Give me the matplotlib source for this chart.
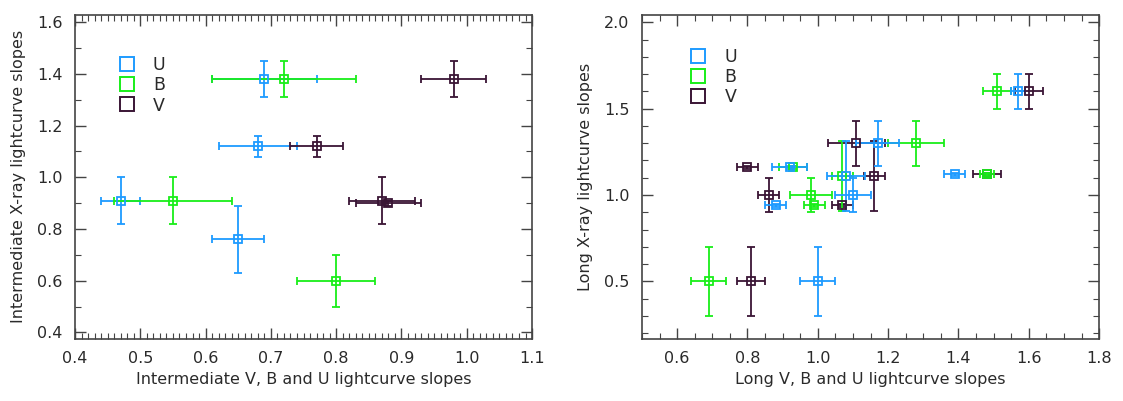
import matplotlib
matplotlib.use("Agg")
import matplotlib.pyplot as plt
from matplotlib.lines import Line2D
from matplotlib.ticker import MultipleLocator, FormatStrFormatter

# colours per band
band_colors = {"U": "#1e9bff", "B": "#19ee19", "V": "#3a1535"}
bands = ["U", "B", "V"]

# intermediate slopes (left panel): x, y, x error, y error
inter_U_x = [0.69, 0.68, 0.47, 0.65]
inter_U_y = [1.38, 1.12, 0.91, 0.76]
inter_U_xerr = [0.08, 0.06, 0.03, 0.04]
inter_U_yerr = [0.07, 0.04, 0.09, 0.13]

inter_B_x = [0.72, 0.55, 0.80]
inter_B_y = [1.38, 0.91, 0.60]
inter_B_xerr = [0.11, 0.09, 0.06]
inter_B_yerr = [0.07, 0.09, 0.10]

inter_V_x = [0.98, 0.77, 0.87, 0.88]
inter_V_y = [1.38, 1.12, 0.91, 0.90]
inter_V_xerr = [0.05, 0.04, 0.05, 0.05]
inter_V_yerr = [0.07, 0.04, 0.09, 0.01]

# long slopes (right panel)
long_U_x = [1.57, 1.39, 1.17, 1.08, 1.10, 0.88, 0.92, 1.00]
long_U_y = [1.60, 1.12, 1.30, 1.11, 1.00, 0.94, 1.16, 0.50]
long_U_xerr = [0.02, 0.03, 0.06, 0.055, 0.05, 0.03, 0.05, 0.05]
long_U_yerr = [0.10, 0.01, 0.13, 0.20, 0.10, 0.01, 0.01, 0.20]

long_B_x = [1.51, 1.48, 1.28, 1.07, 0.98, 0.99, 0.93, 0.69]
long_B_y = [1.60, 1.12, 1.30, 1.11, 1.00, 0.94, 1.16, 0.50]
long_B_xerr = [0.04, 0.02, 0.08, 0.03, 0.06, 0.03, 0.04, 0.05]
long_B_yerr = [0.10, 0.01, 0.13, 0.20, 0.10, 0.01, 0.01, 0.20]

long_V_x = [1.60, 1.48, 1.11, 1.16, 0.86, 1.07, 0.80, 0.81]
long_V_y = [1.60, 1.12, 1.30, 1.11, 1.00, 0.94, 1.16, 0.50]
long_V_xerr = [0.04, 0.04, 0.08, 0.03, 0.03, 0.03, 0.03, 0.04]
long_V_yerr = [0.10, 0.01, 0.13, 0.20, 0.10, 0.01, 0.01, 0.20]

inter_data = {
    "U": (inter_U_x, inter_U_y, inter_U_xerr, inter_U_yerr),
    "B": (inter_B_x, inter_B_y, inter_B_xerr, inter_B_yerr),
    "V": (inter_V_x, inter_V_y, inter_V_xerr, inter_V_yerr),
}
long_data = {
    "U": (long_U_x, long_U_y, long_U_xerr, long_U_yerr),
    "B": (long_B_x, long_B_y, long_B_xerr, long_B_yerr),
    "V": (long_V_x, long_V_y, long_V_xerr, long_V_yerr),
}

plt.rcParams['font.family'] = ['DejaVu Sans']
plt.rcParams['font.size'] = 11.5
text_color = '#2a2a2a'
axis_color = '#444444'


def draw_panel(ax, data, legend_anchor, order):
    for band in order:
        x, y, xerr, yerr = data[band]
        ax.errorbar(x, y, xerr=xerr, yerr=yerr, fmt='s', color=band_colors[band],
                    mfc='none', mec=band_colors[band], ms=6, mew=1.3,
                    elinewidth=1.3, capsize=3, capthick=1.3)

    # legend: hollow squares only
    handles = [Line2D([], [], marker='s', ls='none', mfc='none', ms=9.5, mew=1.4,
                      mec=band_colors[b], color=band_colors[b]) for b in bands]
    leg = ax.legend(handles, bands, loc='upper left', bbox_to_anchor=legend_anchor,
                    frameon=False, handletextpad=1.0, labelspacing=0.12,
                    handlelength=1.0, fontsize=12.5)
    for t in leg.get_texts():
        t.set_color(text_color)

    ax.tick_params(which='both', direction='in', top=True, right=True,
                   colors=axis_color, labelcolor=text_color)
    ax.tick_params(which='major', length=8, width=1, pad=9)
    ax.tick_params(which='minor', length=4, width=0.8)
    for s in ax.spines.values():
        s.set_color(axis_color)
        s.set_linewidth(1.2)


fig = plt.figure(figsize=(11.23, 4.01), dpi=100)
ax1 = fig.add_axes([0.0668, 0.155, 0.407, 0.808])
ax2 = fig.add_axes([0.5717, 0.155, 0.407, 0.808])

draw_panel(ax1, inter_data, (0.06, 0.92), ["U", "B", "V"])
ax1.set_xlim(0.4, 1.1)
ax1.set_ylim(0.375, 1.628)
ax1.xaxis.set_major_locator(MultipleLocator(0.1))
ax1.xaxis.set_minor_locator(MultipleLocator(0.01))
ax1.yaxis.set_major_locator(MultipleLocator(0.2))
ax1.yaxis.set_minor_locator(MultipleLocator(0.1))
ax1.xaxis.set_major_formatter(FormatStrFormatter('%.1f'))
ax1.yaxis.set_major_formatter(FormatStrFormatter('%.1f'))
ax1.set_xlabel('Intermediate V, B and U lightcurve slopes', color=text_color, labelpad=4)
ax1.set_ylabel('Intermediate X-ray lightcurve slopes', color=text_color, labelpad=8)

draw_panel(ax2, long_data, (0.07, 0.945), ["V", "B", "U"])
ax2.set_xlim(0.5, 1.8)
ax2.set_ylim(0.167, 2.043)
ax2.xaxis.set_major_locator(MultipleLocator(0.2))
ax2.xaxis.set_minor_locator(MultipleLocator(0.05))
ax2.yaxis.set_major_locator(MultipleLocator(0.5))
ax2.yaxis.set_minor_locator(MultipleLocator(0.1))
ax2.xaxis.set_major_formatter(FormatStrFormatter('%.1f'))
ax2.yaxis.set_major_formatter(FormatStrFormatter('%.1f'))
ax2.set_xlabel('Long V, B and U lightcurve slopes', color=text_color, labelpad=4)
ax2.set_ylabel('Long X-ray lightcurve slopes', color=text_color, labelpad=8)

fig.savefig('out.png', dpi=100)
